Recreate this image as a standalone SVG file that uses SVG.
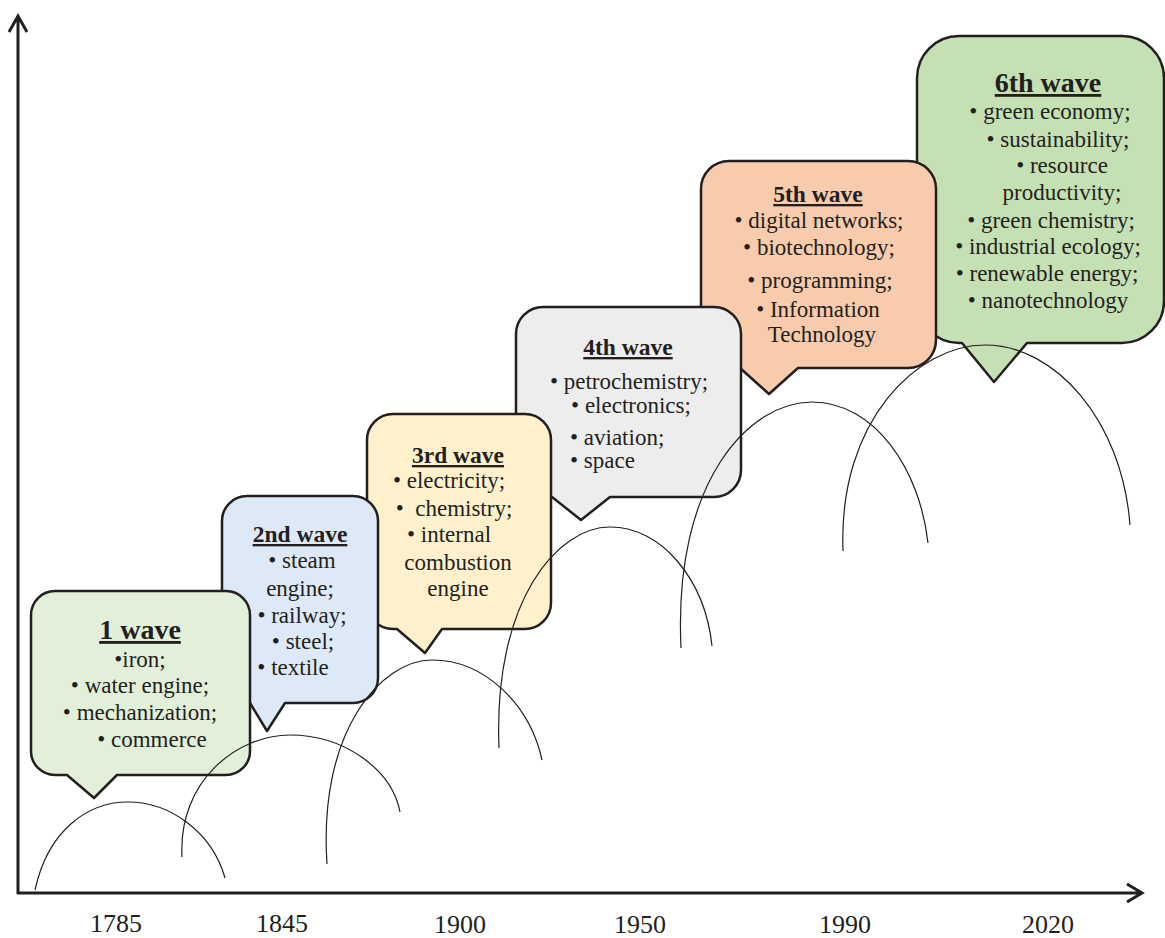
<svg xmlns="http://www.w3.org/2000/svg" width="1165" height="938" viewBox="0 0 1165 938">
<style>
.b{stroke:#231f20;stroke-width:2.5;stroke-linejoin:round}
.t{font-family:"Liberation Serif","Times New Roman",serif;font-size:23px;fill:#231f20;text-anchor:middle}
.h{font-weight:bold;text-decoration:underline;font-size:23.5px}
.big{font-size:28px}
.l{text-anchor:start}
.arc{fill:none;stroke:#231f20;stroke-width:1.2}
.ax{fill:none;stroke:#231f20;stroke-width:3}
.yr{font-family:"Liberation Serif","Times New Roman",serif;font-size:26px;fill:#231f20;text-anchor:middle}
</style>
<rect width="1165" height="938" fill="#fff"/>
<g id="axes">
<path class="ax" d="M18,894 V16 M9,32 L18,16 L27,32"/>
<path class="ax" d="M17,893 H1142 M1127,884 L1142,893 L1127,902"/>
<text class="yr" x="116" y="932">1785</text>
<text class="yr" x="282" y="932">1845</text>
<text class="yr" x="460" y="933">1900</text>
<text class="yr" x="640" y="933">1950</text>
<text class="yr" x="845" y="933">1990</text>
<text class="yr" x="1048" y="933">2020</text>
</g>
<g id="wave6">
<path class="b" fill="#c5e0b3" d="M959,36 H1122 A42,42 0 0 1 1164,78 V301 A42,42 0 0 1 1122,343 H1027 L994,382 L962,343 H959 A42,42 0 0 1 917,301 V78 A42,42 0 0 1 959,36 Z"/>
<text class="t h big" x="1048" y="92">6th wave</text>
<text class="t" x="1050" y="119">• green economy;</text>
<text class="t" x="1058" y="147">• sustainability;</text>
<text class="t" x="1062" y="173">• resource</text>
<text class="t" x="1062" y="200">productivity;</text>
<text class="t" x="1051" y="228">• green chemistry;</text>
<text class="t" x="1048" y="254">• industrial ecology;</text>
<text class="t" x="1047" y="281">• renewable energy;</text>
<text class="t" x="1048" y="308">• nanotechnology</text>
</g>
<g id="wave5">
<path class="b" fill="#f7cbac" d="M729,161 H908 A28,28 0 0 1 936,189 V340 A28,28 0 0 1 908,368 H798 L769,394 L740,368 H729 A28,28 0 0 1 701,340 V189 A28,28 0 0 1 729,161 Z"/>
<text class="t h" x="818" y="202">5th wave</text>
<text class="t" x="819" y="228">• digital networks;</text>
<text class="t" x="819" y="255">• biotechnology;</text>
<text class="t" x="820" y="288">• programming;</text>
<text class="t" x="818" y="317">• Information</text>
<text class="t" x="822" y="342">Technology</text>
</g>
<g id="wave4">
<path class="b" fill="#ededed" d="M543,307 H714 A27,27 0 0 1 741,334 V470 A27,27 0 0 1 714,497 H610 L581,520 L552,497 H543 A27,27 0 0 1 516,470 V334 A27,27 0 0 1 543,307 Z"/>
<text class="t h" x="628" y="355">4th wave</text>
<text class="t" x="629" y="389">• petrochemistry;</text>
<text class="t" x="631" y="413">• electronics;</text>
<text class="t l" x="570" y="445">• aviation;</text>
<text class="t l" x="570" y="468">• space</text>
</g>
<g id="wave3">
<path class="b" fill="#fff1cc" d="M393,414 H525 A26,26 0 0 1 551,440 V603 A26,26 0 0 1 525,629 H442 L425,653 L397,629 H393 A26,26 0 0 1 367,603 V440 A26,26 0 0 1 393,414 Z"/>
<text class="t h" x="458" y="463">3rd wave</text>
<text class="t" x="449" y="488">• electricity;</text>
<text class="t" x="454" y="516" xml:space="preserve">•  chemistry;</text>
<text class="t" x="449" y="542">• internal</text>
<text class="t" x="458" y="570">combustion</text>
<text class="t" x="458" y="596">engine</text>
</g>
<g id="wave2">
<path class="b" fill="#dde9f6" d="M247,496 H353 A25,25 0 0 1 378,521 V678 A25,25 0 0 1 353,703 H285 L267,731 L250,703 H247 A25,25 0 0 1 222,678 V521 A25,25 0 0 1 247,496 Z"/>
<text class="t h" x="300" y="542">2nd wave</text>
<text class="t" x="302" y="568">• steam</text>
<text class="t" x="300" y="596">engine;</text>
<text class="t" x="302" y="623">• railway;</text>
<text class="t" x="303" y="649">• steel;</text>
<text class="t" x="293" y="675">• textile</text>
</g>
<g id="wave1">
<path class="b" fill="#e2efd9" d="M55,591 H226 A24,24 0 0 1 250,615 V751 A24,24 0 0 1 226,775 H117 L94,798 L67,775 H55 A24,24 0 0 1 31,751 V615 A24,24 0 0 1 55,591 Z"/>
<text class="t h big" x="140" y="639">1 wave</text>
<text class="t" x="140" y="667">•iron;</text>
<text class="t" x="140" y="693">• water engine;</text>
<text class="t" x="140" y="720">• mechanization;</text>
<text class="t" x="152" y="747">• commerce</text>
</g>
<g id="connectors">
<path class="arc" d="M35,890 C48,830 88,802 128,802 C170,802 212,832 225,878"/>
<path class="arc" d="M182,857 C178,780 238,735 290,735 C345,735 392,770 400,812"/>
<path class="arc" d="M327,864 C318,730 382,660 432,660 C485,660 530,705 542,760"/>
<path class="arc" d="M499,748 C493,600 558,527 610,527 C662,527 705,580 712,646"/>
<path class="arc" d="M681,648 C673,480 750,402 812,402 C875,402 920,470 928,543"/>
<path class="arc" d="M843,551 C838,420 918,345 985,345 C1055,345 1122,420 1130,525"/>
</g>
</svg>
